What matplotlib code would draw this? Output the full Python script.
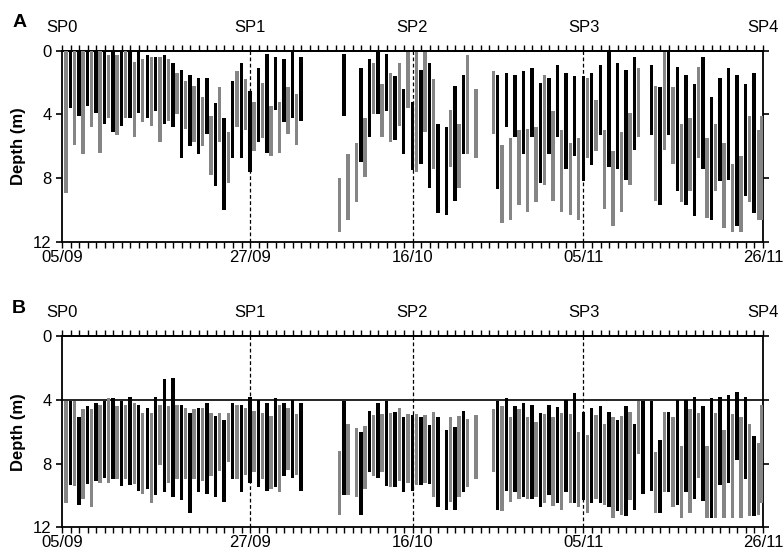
import numpy as np
import matplotlib
matplotlib.use("Agg")
import matplotlib.pyplot as plt
from matplotlib.ticker import MultipleLocator

nan = np.nan
plt.rcParams['font.family'] = ['Liberation Sans', 'DejaVu Sans']

# x axis: days since 05/09
date_ticks = [0, 22, 41, 61, 82]
date_labels = ["05/09", "27/09", "16/10", "05/11", "26/11"]
sp_labels = ["SP0", "SP1", "SP2", "SP3", "SP4"]
sp_lines = [22, 41, 61]

# sampling days (gray = night samples, black = day samples)
gray_days = list(np.arange(1, 83) - 0.55) + [81.85]
black_days = list(np.arange(1, 83) - 0.03)

# ---------- Panel A ----------
a_gray_top = [0, 0, 0, 0, 0, 0.3, 0.3, 0, 0.7, 0.5,
              0.4, 0.4, 0.5, 1.4, 1.9, 2.2, 2.9, 4.1, 2.3, 5.1,
              1.3, 1.8, 3.2, 2.0, 3.5, 3.2, 2.3, 2.7, nan, nan,
              nan, nan, 8.0, 6.5, 5.8, 4.2, 0.8, 2.1, 1.4, 0.8,
              0.06, 0.1, 0.06, 1.8, nan, 3.7, 4.6, 0.3, 2.4, nan,
              1.3, 5.9, 5.5, 5.0, 4.9, 4.8, 1.5, 3.8, 5.0, 5.8,
              5.5, 1.7, 3.1, 5.0, 6.3, 5.1, 3.9, 1.1, nan, 2.2,
              0.06, 2.3, 4.6, 4.2, 1.0, 5.5, 4.6, 5.8, 7.1, 6.6,
              4.1, 5.0, 4.1]
a_gray_bot = [8.9, 5.9, 6.5, 4.8, 6.4, 4.2, 5.3, 4.2, 5.4, 4.5,
              4.7, 5.7, 4.4, 4.0, 4.9, 5.7, 6.0, 7.8, 5.7, 8.3,
              4.8, 5.0, 6.3, 5.5, 6.6, 6.4, 5.2, 5.9, nan, nan,
              nan, nan, 11.4, 10.6, 9.5, 7.9, 4.0, 5.4, 5.7, 4.7,
              3.6, 7.6, 5.1, 7.4, nan, 7.3, 8.6, 6.5, 6.7, nan,
              5.2, 10.8, 10.6, 9.7, 10.1, 9.5, 8.4, 9.4, 10.1, 10.3,
              10.6, 6.7, 6.3, 9.9, 11.0, 10.1, 8.4, 5.4, nan, 9.4,
              6.2, 7.1, 9.5, 8.8, 6.7, 10.5, 8.8, 11.1, 11.4, 11.4,
              9.5, 10.6, 10.6]
a_black_top = [0, 0, 0, 0, 0, 0, 0, 0, 0, 0.3,
               0.4, 0.3, 0.8, 1.2, 1.5, 1.7, 1.7, 3.3, 4.2, 1.9,
               0.8, 2.5, 1.1, 0.2, 0.4, 0.5, 0.06, 0.4, nan, nan,
               nan, nan, 0.2, nan, 1.1, 0.5, 0.1, 0.2, 1.6, 2.4,
               3.2, 1.2, 0.75, 4.6, 4.8, 2.2, 1.5, nan, nan, nan,
               1.5, 1.4, 1.5, 1.3, 1.1, 2.0, 1.7, 0.9, 1.4, 1.6,
               1.6, 1.4, 0.9, 0.1, 0.8, 1.2, 0.4, nan, 0.9, 2.3,
               0.06, 1.0, 1.5, 2.1, 0.4, 2.9, 1.7, 1.1, 1.5, 2.1,
               1.4, nan]
a_black_bot = [3.6, 4.1, 3.5, 3.9, 4.6, 5.1, 4.7, 4.2, 3.9, 4.2,
               3.8, 4.6, 4.8, 6.7, 6.0, 6.5, 5.2, 8.5, 10.0, 6.7,
               6.7, 7.6, 5.7, 6.4, 3.7, 4.5, 4.2, 4.4, nan, nan,
               nan, nan, 4.1, nan, 7.0, 5.4, 4.0, 3.8, 5.6, 6.5,
               7.5, 7.1, 8.6, 10.2, 10.3, 9.4, 6.5, nan, nan, nan,
               8.7, 4.8, 5.4, 6.5, 5.4, 8.3, 6.5, 5.4, 7.4, 6.6,
               8.2, 7.2, 5.3, 7.3, 7.4, 8.1, 6.2, nan, 5.3, 9.7,
               5.3, 8.8, 9.7, 10.4, 7.4, 10.6, 8.2, 8.1, 11.0, 9.1,
               10.2, nan]

# ---------- Panel B ----------
b_gray_top = [4.1, 4.1, 4.6, 4.6, 4.3, 3.9, 4.4, 4.3, 4.2, 4.85,
              4.8, 4.3, 4.4, 4.3, 4.5, 4.6, 4.5, 4.8, 4.8, 4.8,
              4.3, 4.5, 4.7, 4.8, 5.0, 4.3, 4.5, 4.9, nan, nan,
              nan, nan, 7.2, 5.5, 5.75, 5.65, 4.95, 4.9, 4.85, 4.5,
              4.9, 4.9, 4.95, 4.75, nan, 5.1, 5.0, 5.2, 4.95, nan,
              4.6, 4.4, 5.1, 4.6, 5.1, 5.4, 4.9, 5.05, 4.85, 4.9,
              6.0, 6.2, 4.95, 5.5, 5.05, 5.0, 4.75, 4.05, nan, 7.3,
              4.75, 5.1, 6.9, 4.6, 4.85, 6.9, 4.85, 5.9, 4.9, 5.1,
              5.5, 6.7, 4.3]
b_gray_bot = [10.5, 9.4, 10.2, 10.7, 9.2, 9.2, 9.0, 9.0, 9.3, 9.9,
              10.5, 8.1, 9.2, 9.0, 9.0, 9.0, 9.1, 8.8, 8.45, 7.9,
              9.0, 8.7, 8.5, 9.0, 9.6, 9.8, 8.4, 8.7, nan, nan,
              nan, nan, 11.2, 10.0, 10.1, 9.6, 8.8, 8.5, 9.5, 9.1,
              9.2, 9.35, 9.2, 10.1, nan, 10.4, 10.1, 9.45, 9.0, nan,
              8.5, 11.0, 10.4, 10.2, 10.2, 10.1, 10.5, 10.65, 10.9, 10.5,
              10.7, 11.1, 10.2, 10.6, 11.4, 11.2, 10.3, 7.4, nan, 11.1,
              9.8, 10.7, 11.4, 11.1, 8.9, 11.4, 11.4, 11.4, 11.4, 11.4,
              11.3, 11.2, 10.5]
b_black_top = [4.1, 5.1, 4.4, 4.2, 4.1, 3.9, 4.1, 3.8, 4.3, 4.5,
               3.8, 2.7, 2.65, 4.3, 4.8, 4.5, 4.2, 5.0, 5.3, 4.2,
               4.3, 3.8, 4.0, 4.2, 3.9, 4.2, 4.0, 4.2, nan, nan,
               nan, nan, 4.1, nan, 6.0, 4.7, 4.2, 4.1, 4.75, 5.1,
               4.95, 5.1, 5.6, 5.1, 5.9, 5.7, 4.7, nan, nan, nan,
               4.1, 3.9, 4.4, 4.2, 4.3, 4.85, 4.35, 4.45, 4.0, 3.6,
               4.75, 4.5, 4.4, 4.75, 5.3, 4.4, 5.5, 4.1, 4.05, 6.5,
               4.75, 4.0, 4.0, 3.8, 4.4, 3.9, 3.8, 3.7, 3.5, 3.8,
               6.3, nan]
b_black_bot = [9.35, 10.6, 9.3, 9.1, 8.9, 9.0, 9.4, 9.35, 9.7, 9.6,
               10.0, 9.8, 10.1, 10.3, 11.1, 9.8, 9.9, 10.1, 10.4, 9.0,
               9.8, 9.2, 9.5, 9.7, 9.5, 8.8, 8.9, 9.7, nan, nan,
               nan, nan, 10.0, nan, 11.2, 8.5, 8.9, 9.4, 9.5, 9.8,
               9.7, 9.35, 9.3, 10.75, 10.9, 10.9, 9.8, nan, nan, nan,
               10.9, 9.7, 9.8, 10.1, 10.2, 10.7, 10.0, 10.5, 9.8, 10.5,
               10.3, 10.5, 10.5, 10.7, 10.95, 11.3, 10.9, 9.9, 9.7, 11.1,
               9.8, 10.6, 9.8, 10.25, 10.35, 11.4, 9.35, 9.2, 7.8, 9.0,
               11.3, nan]

GRAY = '#858585'
BLACK = '#000000'
BAR_W = 0.4
FS = 12

fig = plt.figure(figsize=(7.84, 5.56), dpi=100)
axA = fig.add_axes([62 / 784, 1 - 242 / 556, 701 / 784, 191.3 / 556])
axB = fig.add_axes([62 / 784, 1 - 527.3 / 556, 701 / 784, 191.3 / 556])


def draw_bars(ax, days, top, bot, color):
    d = np.asarray(days, float)
    t = np.asarray(top, float)
    b = np.asarray(bot, float)
    ok = ~(np.isnan(t) | np.isnan(b))
    ax.bar(d[ok], b[ok] - t[ok], bottom=t[ok], width=BAR_W, color=color,
           edgecolor='none', zorder=3)


def style(ax, label):
    ax.set_xlim(0, 82)
    ax.set_ylim(12, 0)
    ax.set_yticks([0, 4, 8, 12])
    ax.set_yticklabels(['0', '4', '8', '12'], fontsize=FS)
    ax.set_xticks(date_ticks)
    ax.set_xticklabels(date_labels, fontsize=FS)
    ax.xaxis.set_minor_locator(MultipleLocator(1))
    ax.tick_params(axis='x', which='both', direction='out', length=4.5,
                   width=1.0, pad=1.0, bottom=True, top=False)
    ax.tick_params(axis='y', which='major', direction='out', length=4.5,
                   width=1.2, pad=3, left=True, right=True)
    for s in ax.spines.values():
        s.set_linewidth(1.3)
    ax.set_ylabel('Depth (m)', fontsize=FS, fontweight='bold')
    ax.yaxis.set_label_coords(-0.052, 0.5)
    sec = ax.secondary_xaxis('top')
    sec.set_xticks(date_ticks)
    sec.set_xticklabels(sp_labels, fontsize=FS)
    sec.xaxis.set_minor_locator(MultipleLocator(1))
    sec.tick_params(axis='x', which='both', direction='out', length=4.5,
                    width=1.0, pad=7)
    sec.spines['top'].set_linewidth(1.3)
    for x in sp_lines:
        ax.axvline(x, color='black', lw=0.9, ls=(0, (3, 2)), zorder=4)
    ax.text(-0.071, 1.145, label, transform=ax.transAxes, fontsize=14,
            fontweight='bold', ha='left', va='center')


draw_bars(axA, gray_days, a_gray_top, a_gray_bot, GRAY)
draw_bars(axA, black_days, a_black_top, a_black_bot, BLACK)
style(axA, 'A')

draw_bars(axB, gray_days, b_gray_top, b_gray_bot, GRAY)
draw_bars(axB, black_days, b_black_top, b_black_bot, BLACK)
axB.axhline(4, color='black', lw=1.2, zorder=2)
style(axB, 'B')

fig.savefig('out.png', dpi=100)
